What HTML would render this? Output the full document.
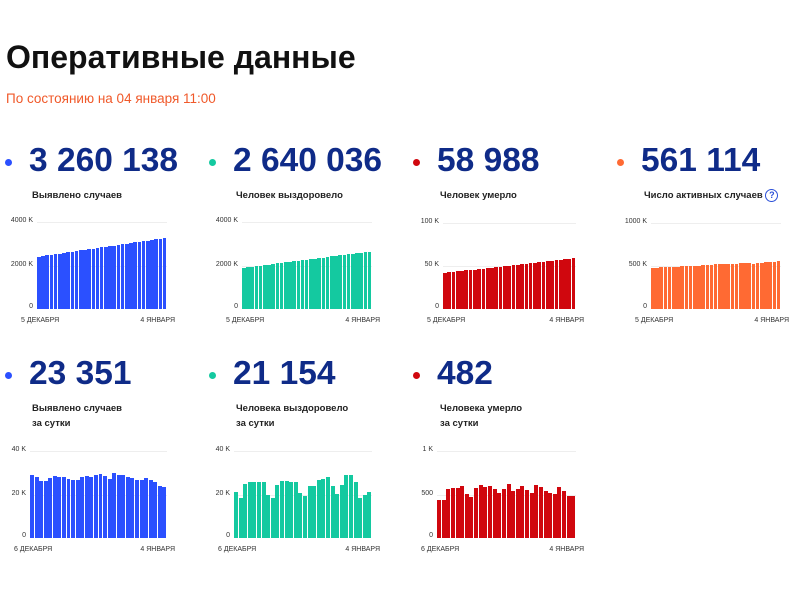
<!DOCTYPE html>
<html><head><meta charset="utf-8"><style>
body{margin:0;width:800px;height:600px;background:#fff;font-family:"Liberation Sans",Arial,sans-serif;position:relative;overflow:hidden}
.a{position:absolute;white-space:nowrap}
h1{position:absolute;left:6px;top:39px;margin:0;font-size:32px;font-weight:bold;color:#111}
.sub{left:6px;top:91px;font-size:13.5px;color:#f0592a}
.num{font-size:33.5px;font-weight:bold;color:#0f2b88}
.dot{width:7px;height:7px;border-radius:50%}
.lab{font-size:9.5px;font-weight:bold;color:#222;line-height:15px}
.t{font-size:7px;color:#333}
.g{position:absolute;height:1px;background:#eee}
.b{position:absolute}
</style></head><body>
<h1>Оперативные данные</h1>
<div class="a sub">По состоянию на 04 января 11:00</div>
<div id="c"></div>
<script>
var c=document.getElementById('c'),h='';
function A(s){h+=s}
function card(dx,dy,col,num,lab,x0,x1,top,zero,ticks,vals,max,d1,q){
 A('<div class="a dot" style="left:'+(dx+5)+'px;top:'+(dy+24)+'px;background:'+col+'"></div>');
 A('<div class="a num" style="left:'+(dx+29)+'px;top:'+(dy+7)+'px">'+num+'</div>');
 A('<div class="a lab" style="left:'+(dx+32)+'px;top:'+(dy+53)+'px">'+lab+(q?' <span style="display:inline-block;width:11px;height:11px;border:1px solid #2b50d8;border-radius:50%;font-size:9px;text-align:center;line-height:11px;color:#2b50d8">?</span>':'')+'</div>');
 var mid=(top+zero)/2;
 A('<div class="g" style="left:'+(x0)+'px;width:'+(x1-x0)+'px;top:'+top+'px"></div>');
 A('<div class="g" style="left:'+(x0)+'px;width:'+(x1-x0)+'px;top:'+mid+'px"></div>');
 A('<div class="a t" style="right:'+(800-x0+4)+'px;top:'+(top-5)+'px">'+ticks[0]+'</div>');
 A('<div class="a t" style="right:'+(800-x0+4)+'px;top:'+(mid-5)+'px">'+ticks[1]+'</div>');
 A('<div class="a t" style="right:'+(800-x0+4)+'px;top:'+(zero-6)+'px">0</div>');
 var n=vals.length,w=(x1-x0)/n;
 for(var i=0;i<n;i++){var hh=vals[i]/max*(zero-top);
  A('<div class="b" style="left:'+(x0+i*w).toFixed(2)+'px;width:'+(w-0.6).toFixed(2)+'px;top:'+(zero-hh).toFixed(1)+'px;height:'+hh.toFixed(1)+'px;background:'+col+'"></div>');}
 A('<div class="a t" style="left:'+(x0-16)+'px;top:'+(zero+8)+'px">'+d1+'</div>');
 A('<div class="a t" style="right:'+(800-x1-8)+'px;top:'+(zero+8)+'px">4 ЯНВАРЯ</div>');
}
function lin(a,b,n){var r=[];for(var i=0;i<n;i++)r.push(a+(b-a)*i/(n-1));return r}
card(0,135,'#2b50ff','3 260 138','Выявлено случаев',37,167,222,309,['4000 K','2000 K'],lin(2410,3260,31),4000,'5 ДЕКАБРЯ');
card(204,135,'#14c9a0','2 640 036','Человек выздоровело',242,372,222,309,['4000 K','2000 K'],lin(1900,2640,31),4000,'5 ДЕКАБРЯ');
card(408,135,'#d0070e','58 988','Человек умерло',443,576,223,309,['100 K','50 K'],lin(42,59,31),100,'5 ДЕКАБРЯ');
card(612,135,'#ff6a33','561 114','Число активных случаев',651,781,223,309,['1000 K','500 K'],[475,482,487,488,489,490,492,495,500,505,505,506,507,508,515,520,522,523,524,525,527,530,531,530,529,530,540,545,547,550,561],1000,'5 ДЕКАБРЯ',1);
card(0,348,'#2b50ff','23 351','Выявлено случаев<br>за сутки',30,167,451,538,['40 K','20 K'],[28.9,28,26,26,27.8,28.5,28,28,27.3,26.5,26.5,28,28.5,28,29,29.3,28.7,27,30,29,29.2,28.2,27.5,26.8,26.5,27.5,26.8,25.8,24,23.3],40,'6 ДЕКАБРЯ');
card(204,348,'#14c9a0','21 154','Человека выздоровело<br>за сутки',234,372,451,538,['40 K','20 K'],[21,18.6,24.8,25.8,25.6,25.8,25.8,20,18.3,24.6,26.1,26.1,25.8,25.8,20.6,19.4,23.8,24,26.5,27,28,24,20.2,24.6,29,28.8,25.6,18.6,19.6,21],40,'6 ДЕКАБРЯ');
card(408,348,'#d0070e','482','Человека умерло<br>за сутки',437,576,451,538,['1 K','500'],[440,440,560,570,570,600,510,470,580,610,590,600,560,520,560,620,540,560,600,550,520,610,590,540,520,510,590,540,480,482],1000,'6 ДЕКАБРЯ');
c.innerHTML=h;
</script>
</body></html>
